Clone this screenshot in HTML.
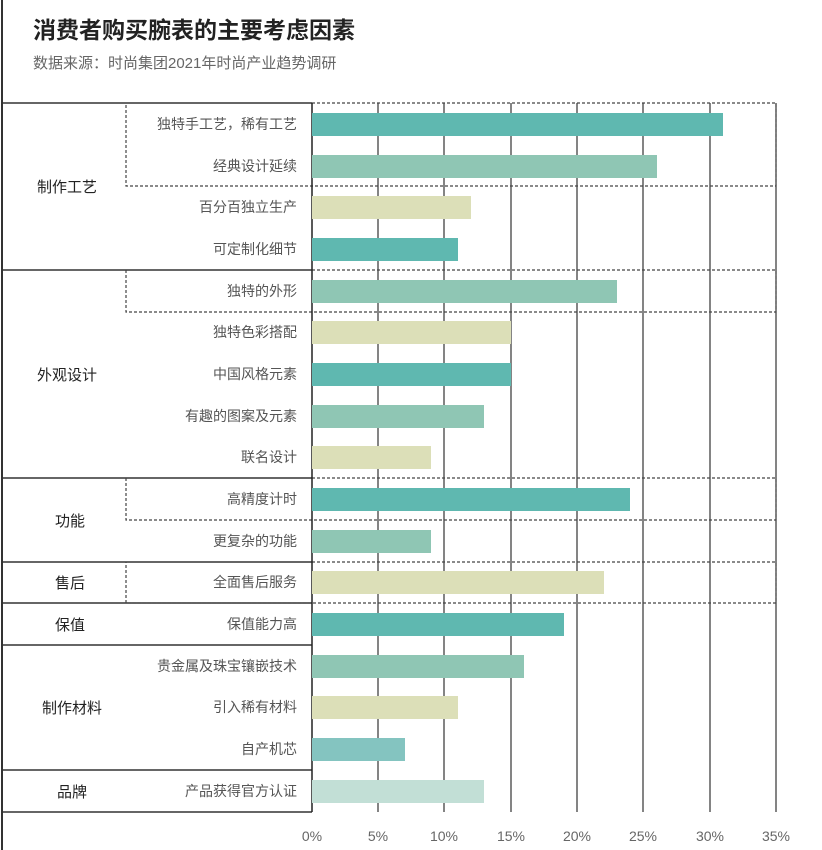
<!DOCTYPE html>
<html><head><meta charset="utf-8"><style>
body{margin:0;background:#fff;}
svg{display:block;font-family:"Liberation Sans","Noto Sans CJK SC",sans-serif;}
</style></head><body>
<svg width="822" height="850" viewBox="0 0 822 850" xmlns="http://www.w3.org/2000/svg">
<rect width="822" height="850" fill="#fff"/>
<text x="33" y="38" font-size="23" font-weight="bold" fill="#222">消费者购买腕表的主要考虑因素</text>
<text x="33" y="68" font-size="15" fill="#666">数据来源：时尚集团2021年时尚产业趋势调研</text>
<line x1="2" y1="0" x2="2" y2="850" stroke="#333" stroke-width="2"/>
<g stroke="#333" stroke-width="1.2">
<line x1="378" y1="103" x2="378" y2="812"/><line x1="444" y1="103" x2="444" y2="812"/>
<line x1="511" y1="103" x2="511" y2="812"/><line x1="577" y1="103" x2="577" y2="812"/>
<line x1="643" y1="103" x2="643" y2="812"/><line x1="710" y1="103" x2="710" y2="812"/>
<line x1="776" y1="103" x2="776" y2="812"/>
</g>
<g stroke="#333" stroke-width="1.5">
<line x1="2" y1="103" x2="312" y2="103"/><line x1="2" y1="270" x2="312" y2="270"/>
<line x1="2" y1="478" x2="312" y2="478"/><line x1="2" y1="562" x2="312" y2="562"/>
<line x1="2" y1="603" x2="312" y2="603"/><line x1="2" y1="645" x2="312" y2="645"/>
<line x1="2" y1="770" x2="312" y2="770"/><line x1="2" y1="812" x2="312" y2="812"/>
</g>
<g fill="none" stroke="#444" stroke-width="1.2" stroke-dasharray="3,2">
<path d="M312 103H776V186H126V103"/>
<path d="M312 270H776V312H126V270"/>
<path d="M312 478H776V520H126V478"/>
<path d="M312 562H776V603H126V562"/>
</g>
<line x1="312" y1="103" x2="312" y2="812" stroke="#222" stroke-width="1.5"/>
<g>
<rect x="312" y="113" width="411" height="23" fill="#5fb8b0"/>
<rect x="312" y="155" width="345" height="23" fill="#8fc6b4"/>
<rect x="312" y="196" width="159" height="23" fill="#dcdfb8"/>
<rect x="312" y="238" width="146" height="23" fill="#5fb8b0"/>
<rect x="312" y="280" width="305" height="23" fill="#8fc6b4"/>
<rect x="312" y="321" width="199" height="23" fill="#dcdfb8"/>
<rect x="312" y="363" width="199" height="23" fill="#5fb8b0"/>
<rect x="312" y="405" width="172" height="23" fill="#8fc6b4"/>
<rect x="312" y="446" width="119" height="23" fill="#dcdfb8"/>
<rect x="312" y="488" width="318" height="23" fill="#5fb8b0"/>
<rect x="312" y="530" width="119" height="23" fill="#8fc6b4"/>
<rect x="312" y="571" width="292" height="23" fill="#dcdfb8"/>
<rect x="312" y="613" width="252" height="23" fill="#5fb8b0"/>
<rect x="312" y="655" width="212" height="23" fill="#8fc6b4"/>
<rect x="312" y="696" width="146" height="23" fill="#dcdfb8"/>
<rect x="312" y="738" width="93" height="23" fill="#84c4c0"/>
<rect x="312" y="780" width="172" height="23" fill="#c2dfd6"/>
</g>
<g font-size="14" fill="#555" text-anchor="end">
<text x="297" y="129">独特手工艺，稀有工艺</text>
<text x="297" y="171">经典设计延续</text>
<text x="297" y="212">百分百独立生产</text>
<text x="297" y="254">可定制化细节</text>
<text x="297" y="296">独特的外形</text>
<text x="297" y="337">独特色彩搭配</text>
<text x="297" y="379">中国风格元素</text>
<text x="297" y="421">有趣的图案及元素</text>
<text x="297" y="462">联名设计</text>
<text x="297" y="504">高精度计时</text>
<text x="297" y="546">更复杂的功能</text>
<text x="297" y="587">全面售后服务</text>
<text x="297" y="629">保值能力高</text>
<text x="297" y="671">贵金属及珠宝镶嵌技术</text>
<text x="297" y="712">引入稀有材料</text>
<text x="297" y="754">自产机芯</text>
<text x="297" y="796">产品获得官方认证</text>
</g>
<g font-size="15" fill="#222" text-anchor="middle">
<text x="67" y="192">制作工艺</text>
<text x="67" y="380">外观设计</text>
<text x="70" y="526">功能</text>
<text x="70" y="588">售后</text>
<text x="70" y="630">保值</text>
<text x="72" y="713">制作材料</text>
<text x="72" y="797">品牌</text>
</g>
<g font-size="14" fill="#666" text-anchor="middle">
<text x="312" y="841">0%</text><text x="378" y="841">5%</text><text x="444" y="841">10%</text>
<text x="511" y="841">15%</text><text x="577" y="841">20%</text><text x="643" y="841">25%</text>
<text x="710" y="841">30%</text><text x="776" y="841">35%</text>
</g>
</svg>
</body></html>
